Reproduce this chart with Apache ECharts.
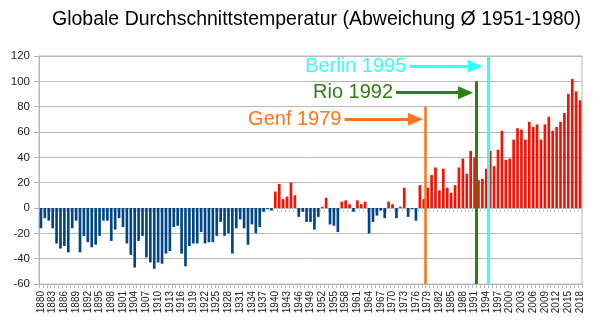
<!DOCTYPE html>
<html><head><meta charset="utf-8">
<script src="https://cdn.jsdelivr.net/npm/echarts@6/dist/echarts.min.js"></script>
<style>html,body{margin:0;padding:0;background:#fff}#c{width:600px;height:321px}</style>
</head><body><div id="c"></div>
<script>
// Categories: years 1880..2018
const firstYear = 1880, lastYear = 2018;
const years = [];
for (let y = firstYear; y <= lastYear; y++) years.push(String(y));

// Temperature anomaly (0.01 °C) relative to 1951-1980
const anomalies = [
  -16, -8, -10, -16, -28, -32, -30, -35, -16, -10,   // 1880-1889
  -35, -22, -27, -31, -29, -22, -10, -10, -26, -17,  // 1890-1899
  -8, -15, -28, -37, -47, -26, -22, -39, -43, -48,   // 1900-1909
  -43, -44, -36, -34, -15, -14, -36, -46, -30, -28,  // 1910-1919
  -28, -19, -28, -27, -27, -22, -11, -22, -20, -36,  // 1920-1929
  -16, -9, -16, -29, -13, -20, -15, -3, -1, -2,      // 1930-1939
  13, 19, 7, 9, 20, 10, -7, -3, -11, -11,            // 1940-1949
  -17, -7, 1, 8, -13, -14, -19, 5, 6, 3,             // 1950-1959
  -3, 6, 3, 5, -20, -11, -6, -2, -8, 5,              // 1960-1969
  3, -8, 1, 16, -7, -1, -10, 18, 7, 16,              // 1970-1979
  26, 32, 14, 31, 16, 12, 18, 32, 39, 27,            // 1980-1989
  45, 40, 22, 23, 31, 45, 33, 46, 61, 38,            // 1990-1999
  39, 54, 63, 62, 54, 68, 64, 66, 54, 66,            // 2000-2009
  72, 61, 64, 68, 75, 90, 102, 92, 85                // 2010-2018
];

// Y axis
const yMin = -60, yMax = 120, yStep = 20;

// Annotations
const annoYears  = [1979, 1992, 1995];
const annoLabels = ['Genf 1979', 'Rio 1992', 'Berlin 1995'];
const annoTops   = [80, 100, 120];
const annoArrowY = [70, 91, 112];
const annoArrowFrom = [1958.2, 1971.4, 1974.8];
const annoArrowTo   = [1976.4, 1989.2, 1991.7];
const annoColors = ['#ff7419', '#2e7d17', '#33ffff'];
const annoWidths = [2.5, 3, 3];

const FONT = 'Liberation Sans';
const GRID = '#b7b7b7';

const markData = [];
annoYears.forEach((yr, i) => {
  markData.push([
    {coord: [yr, yMin], symbol: 'none', lineStyle: {color: annoColors[i], width: annoWidths[i], type: 'solid'}, label: {show: false}},
    {coord: [yr, annoTops[i]], symbol: 'none'}
  ]);
  markData.push([
    {coord: [annoArrowFrom[i], annoArrowY[i]], symbol: 'none',
     lineStyle: {color: annoColors[i], width: 3, type: 'solid'},
     label: {show: true, position: 'start', formatter: annoLabels[i], color: annoColors[i], fontSize: 20, fontFamily: FONT, distance: 3}},
    {coord: [annoArrowTo[i], annoArrowY[i]], symbol: 'triangle', symbolSize: [13, 15]}
  ]);
});

const chart = echarts.init(document.getElementById('c'), null, {renderer: 'canvas'});
chart.setOption({
  animation: false,
  backgroundColor: '#fff',
  title: {
    text: 'Globale Durchschnittstemperatur (Abweichung Ø 1951-1980)',
    left: 52, top: 10, padding: 0,
    textStyle: {fontFamily: FONT, fontSize: 19.5, fontWeight: 'normal', color: '#000'}
  },
  grid: {left: 39, right: 18, top: 56, bottom: 37, show: true, borderColor: GRID, borderWidth: 1, containLabel: false},
  xAxis: [
    {
      type: 'category', data: years, position: 'bottom',
      axisLine: {onZero: false, lineStyle: {color: GRID}},
      axisTick: {show: true, interval: 0, length: 4, lineStyle: {color: GRID}},
      axisLabel: {interval: 2, rotate: 90, fontSize: 10, fontFamily: FONT, color: '#222', margin: 7},
      splitLine: {show: false}
    },
    {
      type: 'category', data: years, position: 'top',
      axisLine: {show: false, onZero: true},
      axisTick: {show: true, inside: true, interval: 0, length: 4, lineStyle: {color: '#d0d0d0'}},
      axisLabel: {show: false},
      splitLine: {show: false}
    },
    {
      type: 'value', min: firstYear, max: lastYear + 1, show: false
    }
  ],
  yAxis: {
    type: 'value', min: yMin, max: yMax, interval: yStep,
    axisLine: {show: true, lineStyle: {color: GRID}},
    axisTick: {show: true, length: 5, lineStyle: {color: GRID}},
    axisLabel: {fontSize: 11.5, fontFamily: FONT, color: '#222', margin: 9},
    splitLine: {lineStyle: {color: GRID, width: 1}}
  },
  series: [
    {
      type: 'bar', xAxisIndex: 0, yAxisIndex: 0,
      data: anomalies.map(v => ({value: v, itemStyle: {color: v < 0 ? '#004586' : '#ff0d00'}})),
      barCategoryGap: '32%',
      silent: true
    },
    {
      type: 'line', xAxisIndex: 2, yAxisIndex: 0, data: [], z: 5, silent: true,
      markLine: {silent: true, animation: false, symbol: ['none', 'none'], data: markData}
    }
  ]
});
</script>
</body></html>
